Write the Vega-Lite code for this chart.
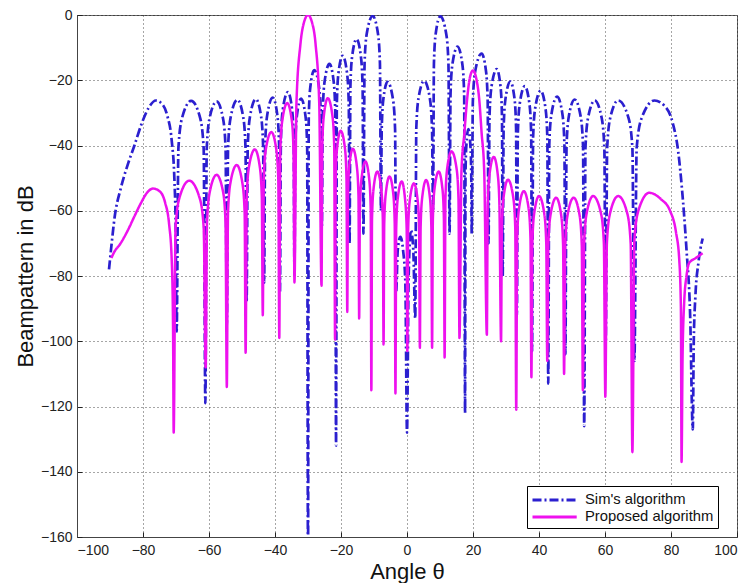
{
"$schema": "https://vega.github.io/schema/vega-lite/v6.json",
"width": 660, "height": 522,
"autosize": {"type": "none"},
"padding": {"left": 77, "top": 15, "right": 12, "bottom": 46},
"background": "white",
"config": {
  "view": {"stroke": "#666", "strokeWidth": 1},
  "font": "Liberation Sans",
  "axis": {"labelFont": "Liberation Sans", "labelFontSize": 14, "labelColor": "#222", "titleFont": "Liberation Sans", "titleFontSize": 22, "titleFontWeight": "normal", "titleColor": "#111", "domainColor": "#444", "tickColor": "#222", "tickSize": -5, "grid": true, "gridColor": "#000", "gridDash": [1, 3], "gridOpacity": 0.7},
  "axisX": {"labelPadding": 11, "titleY": 41, "titleBaseline": "alphabetic"},
  "axisY": {"labelPadding": 10, "titleX": -45, "titleBaseline": "alphabetic"},
  "legend": {"orient": "none", "legendX": 450, "legendY": 471, "strokeColor": "#000", "fillColor": "#fff", "padding": 4, "labelFont": "Liberation Sans", "labelFontSize": 14.8, "labelColor": "#111", "symbolType": "M-1,0H4.2", "symbolStrokeWidth": 3, "symbolSize": 289, "labelOffset": 34, "rowPadding": 0, "cornerRadius": 0}
},
"datasets": {
"sim": [
{"x":-90.3,"y":-78},{"x":-89.6,"y":-71},{"x":-88.6,"y":-62},{"x":-86.7,"y":-53},{"x":-84.5,"y":-45.5},{"x":-82.6,"y":-40},{"x":-80.3,"y":-33},{"x":-78.2,"y":-28.3},{"x":-76.1,"y":-26.2},{"x":-74.2,"y":-27.3},{"x":-72.6,"y":-31},{"x":-71.3,"y":-38.5},{"x":-70.5,"y":-50},{"x":-70.1,"y":-65},{"x":-69.8,"y":-97},
{"x":-69.27,"y":-40.8},{"x":-68.2,"y":-31.7},{"x":-65.4,"y":-26.3},{"x":-62.65,"y":-31.7},{"x":-61.62,"y":-40.8},{"x":-61.1,"y":-119},
{"x":-60.69,"y":-41},{"x":-59.88,"y":-31.9},{"x":-57.7,"y":-26.5},{"x":-55.72,"y":-31.9},{"x":-54.97,"y":-41},{"x":-54.6,"y":-95},
{"x":-54.22,"y":-40.5},{"x":-53.45,"y":-31.4},{"x":-51.4,"y":-26},{"x":-49.61,"y":-31.4},{"x":-48.94,"y":-40.5},{"x":-48.6,"y":-88},
{"x":-48.26,"y":-40.3},{"x":-47.59,"y":-31.2},{"x":-45.8,"y":-25.8},{"x":-44.2,"y":-31.2},{"x":-43.6,"y":-40.3},{"x":-43.3,"y":-82},
{"x":-42.99,"y":-39.8},{"x":-42.36,"y":-30.7},{"x":-40.7,"y":-25.3},{"x":-39.29,"y":-30.7},{"x":-38.76,"y":-39.8},{"x":-38.5,"y":-85},
{"x":-38.21,"y":-38.1},{"x":-37.64,"y":-29},{"x":-36.1,"y":-23.6},{"x":-34.82,"y":-29},{"x":-34.34,"y":-38.1},{"x":-34.1,"y":-80},
{"x":-33.86,"y":-40.1},{"x":-33.38,"y":-31},{"x":-32.1,"y":-25.6},{"x":-30.76,"y":-31},{"x":-30.25,"y":-40.1},{"x":-30,"y":-170},
{"x":-29.77,"y":-31.4},{"x":-29.32,"y":-22.3},{"x":-28.1,"y":-16.9},{"x":-26.63,"y":-22.3},{"x":-26.08,"y":-31.4},{"x":-25.8,"y":-65},
{"x":-25.52,"y":-29.5},{"x":-24.97,"y":-20.4},{"x":-23.5,"y":-15},{"x":-22.22,"y":-20.4},{"x":-21.74,"y":-29.5},{"x":-21.5,"y":-132},
{"x":-21.26,"y":-27},{"x":-20.78,"y":-17.9},{"x":-19.5,"y":-12.5},{"x":-18.16,"y":-17.9},{"x":-17.65,"y":-27},{"x":-17.4,"y":-70},
{"x":-17.15,"y":-21.9},{"x":-16.64,"y":-12.8},{"x":-15.3,"y":-7.4},{"x":-13.96,"y":-12.8},{"x":-13.45,"y":-21.9},{"x":-13.2,"y":-67},
{"x":-12.86,"y":-14.8},{"x":-12.19,"y":-5.7},{"x":-10.4,"y":-0.3},{"x":-8.8,"y":-5.7},{"x":-8.2,"y":-14.8},{"x":-7.9,"y":-60},
{"x":-7.66,"y":-35},{"x":-7.18,"y":-25.9},{"x":-5.9,"y":-20.5},{"x":-4.24,"y":-25.9},{"x":-3.61,"y":-35},{"x":-3.3,"y":-85},
{"x":-2.8,"y":-72},{"x":-2,"y":-68},{"x":-1.2,"y":-72},{"x":-0.5,"y":-82},{"x":0,"y":-128},
{"x":0.5,"y":-80},{"x":1.2,"y":-66},{"x":1.9,"y":-72},{"x":2.5,"y":-93},
{"x":2.82,"y":-34.7},{"x":3.47,"y":-25.6},{"x":5.2,"y":-20.2},{"x":6.93,"y":-25.6},{"x":7.58,"y":-34.7},{"x":7.9,"y":-60},
{"x":8.16,"y":-14.9},{"x":8.69,"y":-5.8},{"x":10.1,"y":-0.4},{"x":11.89,"y":-5.8},{"x":12.56,"y":-14.9},{"x":12.9,"y":-67},
{"x":13.19,"y":-24.2},{"x":13.76,"y":-15.1},{"x":15.3,"y":-9.7},{"x":16.77,"y":-15.1},{"x":17.32,"y":-24.2},{"x":17.6,"y":-122},
{"x":17.72,"y":-49.5},{"x":17.96,"y":-40.4},{"x":18.6,"y":-35},{"x":19.24,"y":-40.4},{"x":19.48,"y":-49.5},{"x":19.6,"y":-67},
{"x":19.96,"y":-26.3},{"x":20.68,"y":-17.2},{"x":22.6,"y":-11.8},{"x":23.94,"y":-17.2},{"x":24.45,"y":-26.3},{"x":24.7,"y":-70},
{"x":25.0,"y":-31.1},{"x":25.6,"y":-22},{"x":27.2,"y":-16.6},{"x":28.35,"y":-22},{"x":28.78,"y":-31.1},{"x":29,"y":-80},
{"x":29.28,"y":-34.9},{"x":29.83,"y":-25.8},{"x":31.3,"y":-20.4},{"x":32.6,"y":-25.8},{"x":33.06,"y":-34.9},{"x":33.3,"y":-92},
{"x":33.59,"y":-36.3},{"x":34.16,"y":-27.2},{"x":35.7,"y":-21.8},{"x":37.1,"y":-27.2},{"x":37.63,"y":-36.3},{"x":37.9,"y":-103},
{"x":38.21,"y":-37.7},{"x":38.84,"y":-28.6},{"x":40.5,"y":-23.2},{"x":41.97,"y":-28.6},{"x":42.53,"y":-37.7},{"x":42.8,"y":-113},
{"x":43.12,"y":-39.5},{"x":43.77,"y":-30.4},{"x":45.5,"y":-25},{"x":47.1,"y":-30.4},{"x":47.7,"y":-39.5},{"x":48,"y":-104},
{"x":48.34,"y":-40.4},{"x":49.0,"y":-31.3},{"x":50.8,"y":-25.9},{"x":52.66,"y":-31.3},{"x":53.35,"y":-40.4},{"x":53.7,"y":-126},
{"x":54.08,"y":-40.7},{"x":54.85,"y":-31.6},{"x":56.9,"y":-26.2},{"x":59.0,"y":-31.6},{"x":59.8,"y":-40.7},{"x":60.2,"y":-101},
{"x":60.66,"y":-40.7},{"x":61.57,"y":-31.6},{"x":64,"y":-26.2},{"x":67.14,"y":-31.6},{"x":68.3,"y":-40.7},{"x":68.9,"y":-106},
{"x":69.6,"y":-40.7},{"x":71.1,"y":-31.6},{"x":75,"y":-26.2},{"x":78,"y":-27.8},{"x":80.5,"y":-33},{"x":82.2,"y":-42},{"x":83.3,"y":-53},{"x":84.7,"y":-72},{"x":85.8,"y":-92},{"x":86.6,"y":-127},
{"x":86.9,"y":-100},{"x":87.4,"y":-86},{"x":88.3,"y":-76},{"x":89.6,"y":-68.5}
],
"prop": [
{"x":-89.6,"y":-74.5},{"x":-88.8,"y":-72.8},{"x":-86.8,"y":-70},{"x":-84.6,"y":-66},{"x":-82.5,"y":-61.5},{"x":-80.6,"y":-57.6},{"x":-78.8,"y":-54.5},{"x":-77,"y":-53.2},{"x":-75,"y":-54},{"x":-73.3,"y":-57.5},{"x":-72.1,"y":-64},{"x":-71.3,"y":-75},{"x":-70.9,"y":-95},{"x":-70.7,"y":-128},
{"x":-70.14,"y":-65.3},{"x":-69.0,"y":-56.2},{"x":-66,"y":-50.8},{"x":-62.8,"y":-56.2},{"x":-61.6,"y":-65.3},{"x":-61.0,"y":-108},
{"x":-60.6,"y":-63.5},{"x":-59.8,"y":-54.4},{"x":-57.7,"y":-49},{"x":-55.7,"y":-54.4},{"x":-55.0,"y":-63.5},{"x":-54.6,"y":-114},
{"x":-54.24,"y":-60.5},{"x":-53.5,"y":-51.4},{"x":-51.6,"y":-46},{"x":-49.9,"y":-51.4},{"x":-49.2,"y":-60.5},{"x":-48.9,"y":-103.5},
{"x":-48.56,"y":-55.7},{"x":-47.9,"y":-46.6},{"x":-46.1,"y":-41.2},{"x":-44.6,"y":-46.6},{"x":-44.0,"y":-55.7},{"x":-43.7,"y":-92},
{"x":-43.4,"y":-50.4},{"x":-42.8,"y":-41.3},{"x":-41.1,"y":-35.9},{"x":-39.6,"y":-41.3},{"x":-39.0,"y":-50.4},{"x":-38.7,"y":-99},
{"x":-38.4,"y":-41.5},{"x":-37.8,"y":-32.4},{"x":-36.3,"y":-27},{"x":-34.9,"y":-32.4},{"x":-34.4,"y":-41.5},{"x":-34.1,"y":-82},
{"x":-33.5,"y":-27},{"x":-32.3,"y":-9},{"x":-31.2,"y":-2.2},{"x":-30,"y":0},{"x":-28.8,"y":-2.2},{"x":-27.7,"y":-9},{"x":-26.6,"y":-27},{"x":-25.9,"y":-83},
{"x":-25.67,"y":-40},{"x":-25.2,"y":-30.9},{"x":-24,"y":-25.5},{"x":-22.6,"y":-30.9},{"x":-22.06,"y":-40},{"x":-21.8,"y":-99.5},
{"x":-21.6,"y":-50},{"x":-21.2,"y":-40.9},{"x":-20.1,"y":-35.5},{"x":-18.8,"y":-40.9},{"x":-18.34,"y":-50},{"x":-18.1,"y":-91},
{"x":-17.9,"y":-55.5},{"x":-17.5,"y":-46.4},{"x":-16.4,"y":-41},{"x":-15.2,"y":-46.4},{"x":-14.7,"y":-55.5},{"x":-14.5,"y":-93},
{"x":-14.27,"y":-59.4},{"x":-13.8,"y":-50.3},{"x":-12.6,"y":-44.9},{"x":-11.45,"y":-50.3},{"x":-11.0,"y":-59.4},{"x":-10.8,"y":-115},
{"x":-10.6,"y":-62.5},{"x":-10.15,"y":-53.4},{"x":-9,"y":-48},{"x":-7.8,"y":-53.4},{"x":-7.33,"y":-62.5},{"x":-7.1,"y":-101},
{"x":-6.9,"y":-64},{"x":-6.45,"y":-54.9},{"x":-5.3,"y":-49.5},{"x":-4.15,"y":-54.9},{"x":-3.72,"y":-64},{"x":-3.5,"y":-116},
{"x":-3.27,"y":-65.5},{"x":-2.82,"y":-56.4},{"x":-1.6,"y":-51},{"x":-0.6,"y":-56.4},{"x":-0.1,"y":-65.5},{"x":0.1,"y":-103},
{"x":0.34,"y":-66},{"x":0.82,"y":-57},{"x":2.1,"y":-51.6},{"x":3.25,"y":-57},{"x":3.68,"y":-66},{"x":3.9,"y":-102},
{"x":4.13,"y":-65},{"x":4.6,"y":-56},{"x":5.8,"y":-50.6},{"x":6.95,"y":-56},{"x":7.38,"y":-65},{"x":7.6,"y":-102},
{"x":7.84,"y":-62.5},{"x":8.32,"y":-53.4},{"x":9.6,"y":-48},{"x":10.75,"y":-53.4},{"x":11.18,"y":-62.5},{"x":11.4,"y":-105},
{"x":11.65,"y":-56.3},{"x":12.16,"y":-47.2},{"x":13.5,"y":-41.8},{"x":15.04,"y":-47.2},{"x":15.6,"y":-56.3},{"x":15.9,"y":-99},
{"x":16.5,"y":-48},{"x":17.4,"y":-36},{"x":18.2,"y":-26},{"x":19,"y":-19.5},{"x":20,"y":-17},{"x":21,"y":-19.5},{"x":21.9,"y":-26},{"x":22.6,"y":-36},{"x":23.4,"y":-48},{"x":24.2,"y":-98},
{"x":24.46,"y":-58},{"x":25.0,"y":-48.9},{"x":26.3,"y":-43.5},{"x":27.5,"y":-48.9},{"x":28.0,"y":-58},{"x":28.5,"y":-100},
{"x":28.75,"y":-65},{"x":29.26,"y":-55.9},{"x":30.6,"y":-50.5},{"x":32.2,"y":-55.9},{"x":32.8,"y":-65},{"x":33.1,"y":-121},
{"x":33.38,"y":-68.5},{"x":33.93,"y":-59.4},{"x":35.4,"y":-54},{"x":36.87,"y":-59.4},{"x":37.42,"y":-68.5},{"x":37.7,"y":-111},
{"x":37.98,"y":-70},{"x":38.53,"y":-60.9},{"x":40,"y":-55.5},{"x":41.6,"y":-60.9},{"x":42.2,"y":-70},{"x":42.5,"y":-106},
{"x":42.82,"y":-70.5},{"x":43.47,"y":-61.4},{"x":45.2,"y":-56},{"x":46.73,"y":-61.4},{"x":47.3,"y":-70.5},{"x":47.6,"y":-110},
{"x":47.95,"y":-70.5},{"x":48.64,"y":-61.4},{"x":50.5,"y":-56},{"x":52.3,"y":-61.4},{"x":52.96,"y":-70.5},{"x":53.3,"y":-115},
{"x":53.67,"y":-70},{"x":54.42,"y":-60.9},{"x":56.4,"y":-55.5},{"x":58.8,"y":-60.9},{"x":59.66,"y":-70},{"x":60.1,"y":-117},
{"x":60.57,"y":-70},{"x":61.5,"y":-60.9},{"x":64,"y":-55.5},{"x":66.77,"y":-60.9},{"x":67.78,"y":-70},{"x":68.3,"y":-134},
{"x":68.9,"y":-69},{"x":70.14,"y":-59.9},{"x":73.4,"y":-54.5},{"x":77,"y":-56.5},{"x":79.7,"y":-60},{"x":81.5,"y":-66.5},{"x":82.5,"y":-75},{"x":83,"y":-90},{"x":83.2,"y":-137},
{"x":83.5,"y":-105},{"x":84,"y":-88},{"x":84.7,"y":-80},{"x":85.5,"y":-76},{"x":87.5,"y":-74.5},{"x":89.6,"y":-73}
]
},
"encoding": {
  "x": {"field": "x", "type": "quantitative", "scale": {"domain": [-100, 100], "nice": false}, "axis": {"values": [-100, -80, -60, -40, -20, 0, 20, 40, 60, 80, 100], "title": "Angle θ"}},
  "y": {"field": "y", "type": "quantitative", "scale": {"domain": [-160, 0], "nice": false}, "axis": {"values": [-160, -140, -120, -100, -80, -60, -40, -20, 0], "title": "Beampattern in dB"}}
},
"layer": [
  {"data": {"name": "sim"}, "mark": {"type": "line", "interpolate": "monotone", "strokeWidth": 2.7, "clip": true},
   "encoding": {
     "color": {"datum": "Sim's algorithm", "type": "nominal", "scale": {"domain": ["Sim's algorithm", "Proposed algorithm"], "range": ["#2b1fcf", "#ee11ee"]}, "legend": {"title": null}},
     "strokeDash": {"datum": "Sim's algorithm", "type": "nominal", "scale": {"domain": ["Sim's algorithm", "Proposed algorithm"], "range": [[9, 3, 2, 3], [1, 0]]}, "legend": {"title": null}}
   }},
  {"data": {"name": "prop"}, "mark": {"type": "line", "interpolate": "monotone", "strokeWidth": 2.5, "clip": true},
   "encoding": {
     "color": {"datum": "Proposed algorithm", "type": "nominal"},
     "strokeDash": {"datum": "Proposed algorithm", "type": "nominal"}
   }}
]
}
